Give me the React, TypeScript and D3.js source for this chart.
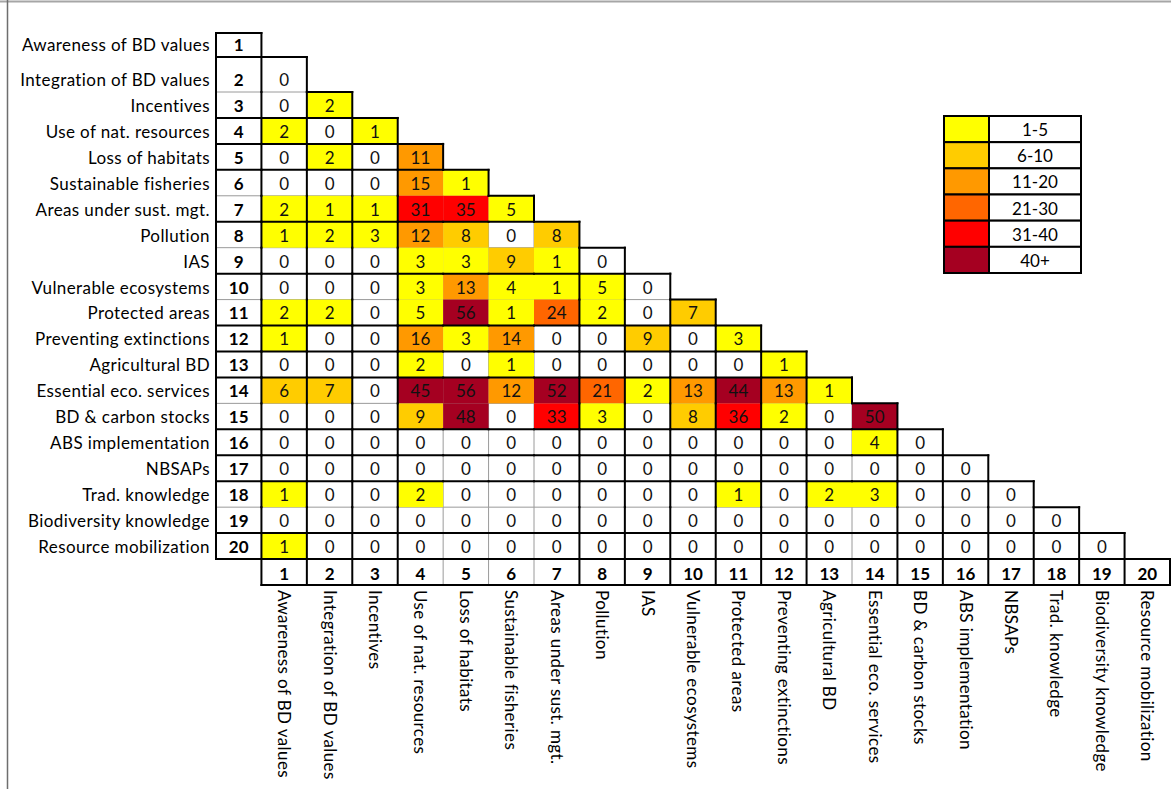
import React from 'react';
import * as d3 from 'd3';

// Targets (rows and columns share the same list)
const targets: string[] = [
    'Awareness of BD values',
    'Integration of BD values',
    'Incentives',
    'Use of nat. resources',
    'Loss of habitats',
    'Sustainable fisheries',
    'Areas under sust. mgt.',
    'Pollution',
    'IAS',
    'Vulnerable ecosystems',
    'Protected areas',
    'Preventing extinctions',
    'Agricultural BD',
    'Essential eco. services',
    'BD & carbon stocks',
    'ABS implementation',
    'NBSAPs',
    'Trad. knowledge',
    'Biodiversity knowledge',
    'Resource mobilization'
];

// Lower triangle: row r holds the values for columns 1..r-1
const matrix: number[][] = [
    [],
    [0],
    [0, 2],
    [2, 0, 1],
    [0, 2, 0, 11],
    [0, 0, 0, 15, 1],
    [2, 1, 1, 31, 35, 5],
    [1, 2, 3, 12, 8, 0, 8],
    [0, 0, 0, 3, 3, 9, 1, 0],
    [0, 0, 0, 3, 13, 4, 1, 5, 0],
    [2, 2, 0, 5, 56, 1, 24, 2, 0, 7],
    [1, 0, 0, 16, 3, 14, 0, 0, 9, 0, 3],
    [0, 0, 0, 2, 0, 1, 0, 0, 0, 0, 0, 1],
    [6, 7, 0, 45, 56, 12, 52, 21, 2, 13, 44, 13, 1],
    [0, 0, 0, 9, 48, 0, 33, 3, 0, 8, 36, 2, 0, 50],
    [0, 0, 0, 0, 0, 0, 0, 0, 0, 0, 0, 0, 0, 4, 0],
    [0, 0, 0, 0, 0, 0, 0, 0, 0, 0, 0, 0, 0, 0, 0, 0],
    [1, 0, 0, 2, 0, 0, 0, 0, 0, 0, 1, 0, 2, 3, 0, 0, 0],
    [0, 0, 0, 0, 0, 0, 0, 0, 0, 0, 0, 0, 0, 0, 0, 0, 0, 0],
    [1, 0, 0, 0, 0, 0, 0, 0, 0, 0, 0, 0, 0, 0, 0, 0, 0, 0, 0]
];

// Legend classes
const legendLabels: string[] = ['1-5', '6-10', '11-20', '21-30', '31-40', '40+'];
const classBreaks: number[] = [1, 6, 11, 21, 31, 41];
const classColors: string[] = ['#ffffff', '#ffff00', '#ffcc00', '#ff9900', '#ff6600', '#ff0000', '#a50021'];

// Borders drawn thin (boundary after this column / row)
const thinCols = [4, 5, 6, 13];
const thinRows = [2, 6, 8, 10, 14, 18];

const FONT = 'Lato, "Open Sans", sans-serif';

export default function App() {
    const width = 1171;
    const height = 789;
    const n = targets.length;

    // column edges: edge 0 = left of index column, edge 21 = right of column 20
    const xe = d3.scaleLinear().domain([0, n + 1]).range([216, 1170]);
    // row edges: edge 0 = top of row 1 ... edge 21 = bottom of index row
    const ye = d3.scaleLinear().domain([0, 1, 2, n + 1]).range([33, 57, 92, 585]);
    const color = d3.scaleThreshold<number, string>().domain(classBreaks).range(classColors);
    // text sits near the bottom of each cell (Excel style)
    const textY = (r: number) => ye(r) - 12;

    const exists = (r: number, c: number) => {
        if (r >= 1 && r <= n) return c === 0 || (c >= 1 && c <= r - 1);
        if (r === n + 1) return c >= 1 && c <= n;
        return false;
    };

    type Cell = { r: number; c: number };
    const cells: Cell[] = [];
    for (let r = 1; r <= n + 1; r++) for (let c = 0; c <= n; c++) if (exists(r, c)) cells.push({ r, c });

    // collect border segments
    type Seg = { x1: number; y1: number; x2: number; y2: number; thick: boolean };
    const segs: Seg[] = [];
    cells.forEach(({ r, c }) => {
        const x0 = xe(c), x1 = xe(c + 1), y0 = ye(r - 1), y1 = ye(r);
        const leftIn = exists(r, c - 1);
        segs.push({ x1: x0, y1: y0, x2: x0, y2: y1, thick: !leftIn || !thinCols.includes(c - 1) });
        const topIn = exists(r - 1, c);
        segs.push({ x1: x0, y1: y0, x2: x1, y2: y0, thick: !topIn || !thinRows.includes(r - 1) });
        if (!exists(r, c + 1)) segs.push({ x1: x1, y1: y0, x2: x1, y2: y1, thick: true });
        if (!exists(r + 1, c)) segs.push({ x1: x0, y1: y1, x2: x1, y2: y1, thick: true });
    });

    const valueCells = cells.filter((d) => d.r <= n && d.c >= 1);
    const legendY = d3.scaleBand<string>().domain(legendLabels).range([116, 273]);
    const lgX = [944, 989, 1081];
    const fs = 17;
    const ls = 0.4;

    return (
        <svg
            width={width}
            height={height}
            style={{ position: 'absolute', left: 0, top: 0, background: '#fff', fontFamily: FONT }}
        >
            {/* frame */}
            <line x1={0} x2={width} y1={1.5} y2={1.5} stroke="#a6a6a6" strokeWidth={2} />
            <line x1={7.5} x2={7.5} y1={0} y2={height} stroke="#6e6e6e" strokeWidth={1.5} />

            {/* thin borders first, fills cover them */}
            {segs.filter((s) => !s.thick).map((s, i) => (
                <line key={'t' + i} x1={s.x1} y1={s.y1} x2={s.x2} y2={s.y2} stroke="#9a9a9a" strokeWidth={1} />
            ))}

            {valueCells.map(({ r, c }) => {
                const v = matrix[r - 1][c - 1];
                if (v === 0) return null;
                return (
                    <rect key={`f${r}-${c}`} x={xe(c)} y={ye(r - 1)} width={xe(c + 1) - xe(c)} height={ye(r) - ye(r - 1)} fill={color(v)} />
                );
            })}

            {segs.filter((s) => s.thick).map((s, i) => (
                <line key={'k' + i} x1={s.x1} y1={s.y1} x2={s.x2} y2={s.y2} stroke="#000" strokeWidth={2} strokeLinecap="square" />
            ))}

            {/* values */}
            {valueCells.map(({ r, c }) => (
                <text
                    key={`v${r}-${c}`}
                    x={(xe(c) + xe(c + 1)) / 2}
                    y={textY(r)}
                    dy="0.35em"
                    textAnchor="middle"
                    fontSize={fs}
                    fill="#111"
                >
                    {matrix[r - 1][c - 1]}
                </text>
            ))}

            {/* row index + labels */}
            {targets.map((t, i) => (
                <g key={'row' + i}>
                    <text x={(xe(0) + xe(1)) / 2} y={textY(i + 1)} dy="0.35em" textAnchor="middle" fontSize={fs} fontWeight="bold">
                        {i + 1}
                    </text>
                    <text x={210} y={textY(i + 1)} dy="0.35em" textAnchor="end" fontSize={fs} letterSpacing={ls}>
                        {t}
                    </text>
                </g>
            ))}

            {/* column index + rotated labels */}
            {targets.map((t, i) => {
                const cx = (xe(i + 1) + xe(i + 2)) / 2;
                return (
                    <g key={'col' + i}>
                        <text x={cx} y={textY(n + 1) + 1} dy="0.35em" textAnchor="middle" fontSize={fs} fontWeight="bold">
                            {i + 1}
                        </text>
                        <text transform={`translate(${cx},590) rotate(90)`} dy="0.35em" textAnchor="start" fontSize={fs} letterSpacing={ls}>
                            {t}
                        </text>
                    </g>
                );
            })}

            {/* legend */}
            {legendLabels.map((l, i) => {
                const y0 = legendY(l)!;
                const h = legendY.bandwidth();
                return (
                    <g key={'lg' + i}>
                        <rect x={lgX[0]} y={y0} width={lgX[1] - lgX[0]} height={h} fill={classColors[i + 1]} stroke="#000" strokeWidth={2} />
                        <rect x={lgX[1]} y={y0} width={lgX[2] - lgX[1]} height={h} fill="#fff" stroke="#000" strokeWidth={2} />
                        <text x={(lgX[1] + lgX[2]) / 2} y={y0 + h / 2 + 1} dy="0.35em" textAnchor="middle" fontSize={fs}>
                            {l}
                        </text>
                    </g>
                );
            })}
        </svg>
    );
}
